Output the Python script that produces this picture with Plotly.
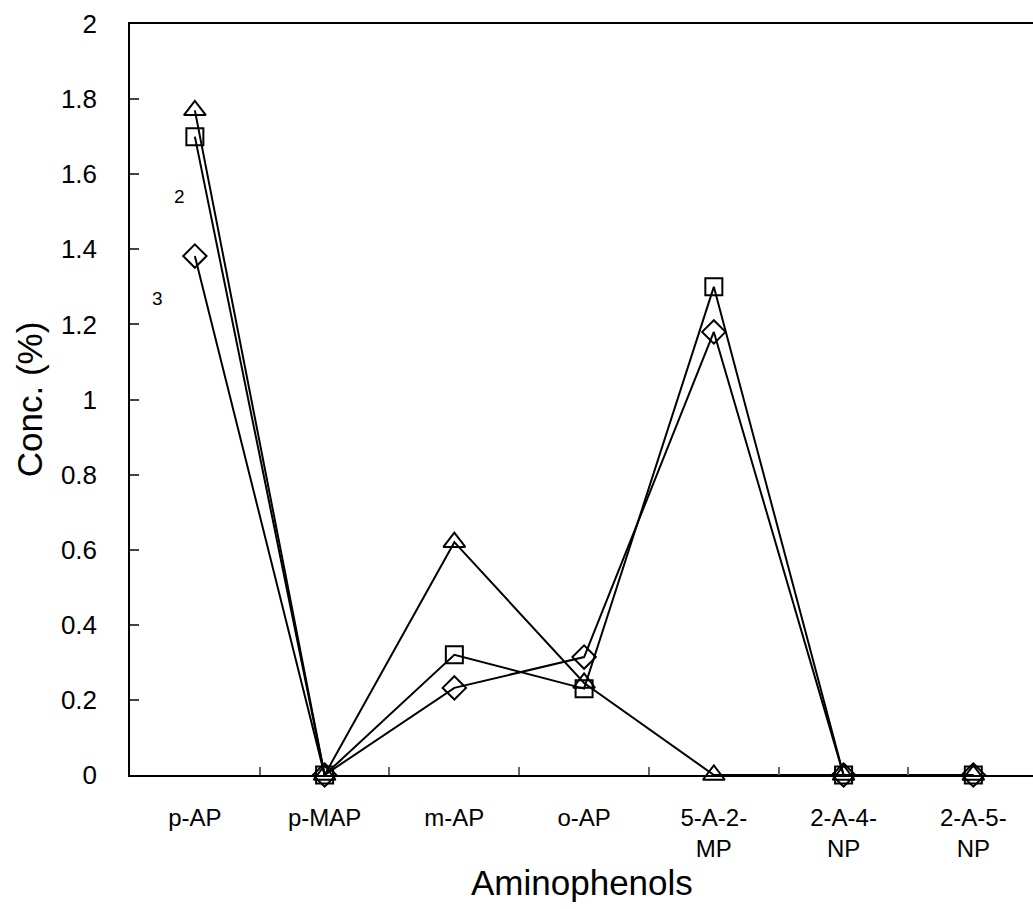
import plotly.graph_objects as go

categories = ["p-AP", "p-MAP", "m-AP", "o-AP", "5-A-2-<br>MP", "2-A-4-<br>NP", "2-A-5-<br>NP"]
series_triangle = [1.77, 0, 0.62, 0.245, 0, 0, 0]
series_square = [1.70, 0, 0.32, 0.23, 1.30, 0, 0]
series_diamond = [1.382, 0, 0.232, 0.314, 1.18, 0, 0]
y_ticks = [0, 0.2, 0.4, 0.6, 0.8, 1, 1.2, 1.4, 1.6, 1.8, 2]
y_tick_text = ["0", "0.2", "0.4", "0.6", "0.8", "1", "1.2", "1.4", "1.6", "1.8", "2"]

FONT = "Liberation Sans, Arial, sans-serif"
xs = list(range(len(categories)))

fig = go.Figure()
for vals, sym, size in [(series_triangle, "triangle-up-open", 19),
                        (series_square, "square-open", 17),
                        (series_diamond, "diamond-open", 18)]:
    fig.add_trace(go.Scatter(
        x=xs, y=vals, mode="lines+markers",
        line=dict(color="black", width=2),
        marker=dict(symbol=sym, size=size, color="black", line=dict(width=2, color="black")),
        cliponaxis=False, showlegend=False))

fig.add_annotation(x=-0.12, y=1.54, xref="x", yref="y", text="2", showarrow=False,
                   font=dict(family=FONT, size=19, color="black"))
fig.add_annotation(x=-0.285, y=1.27, xref="x", yref="y", text="3", showarrow=False,
                   font=dict(family=FONT, size=19, color="black"))
fig.add_annotation(x=0.5, y=-0.143, xref="paper", yref="paper", text="Aminophenols",
                   showarrow=False, xanchor="center", yanchor="middle",
                   font=dict(family=FONT, size=35, color="black"))
fig.add_annotation(x=-0.111, y=0.5, xref="paper", yref="paper", text="Conc. (%)",
                   showarrow=False, textangle=-90, xanchor="center", yanchor="middle",
                   font=dict(family=FONT, size=35, color="black"))

fig.update_layout(
    width=1033, height=909,
    margin=dict(l=130, r=0, t=24, b=134),
    paper_bgcolor="white", plot_bgcolor="white",
    font=dict(family=FONT, color="black"),
    xaxis=dict(range=[-0.5, 6.46], tickmode="array", tickvals=[x + 0.5 for x in xs[:-1]],
               ticktext=["" for _ in xs[:-1]], ticks="inside", ticklen=8, tickcolor="#666",
               tickwidth=1.5, showline=True, linecolor="black", linewidth=1.5, mirror=True,
               showgrid=False, zeroline=False),
    xaxis2=dict(range=[-0.5, 6.46], overlaying="x", side="bottom", tickmode="array",
                tickvals=xs, ticktext=categories, ticks="", showline=False, showgrid=False,
                zeroline=False, ticklabelstandoff=26,
                tickfont=dict(family=FONT, size=24, color="black")),
    yaxis=dict(range=[0, 2], tickmode="array", tickvals=y_ticks, ticktext=y_tick_text,
               ticks="inside", ticklen=9, tickcolor="#444", tickwidth=1.5,
               showline=True, linecolor="black", linewidth=1.5, mirror=False,
               showgrid=False, zeroline=False, ticklabelstandoff=26,
               tickfont=dict(family=FONT, size=26, color="black")),
)
fig.add_trace(go.Scatter(x=[None], y=[None], xaxis="x2", showlegend=False, hoverinfo="skip"))
fig.write_html("out.html")
